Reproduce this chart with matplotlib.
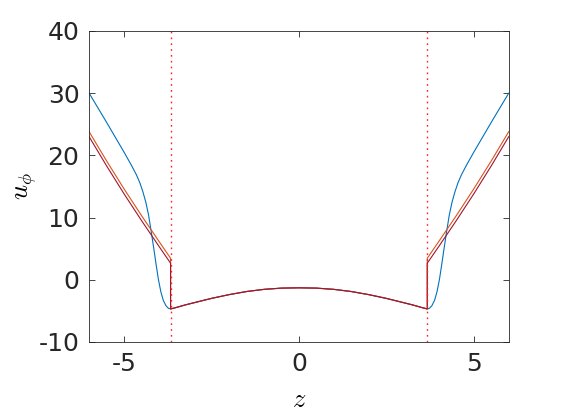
import numpy as np
import matplotlib
matplotlib.use("Agg")
import matplotlib.pyplot as plt

plt.rcParams['mathtext.fontset'] = 'cm'
plt.rcParams['axes.unicode_minus'] = False

# interface position (dotted lines)
z_int = 3.67

# outer region, left side (z from -6 to -3.67); right side is the mirror image
z_blue = [-6.0, -5.5, -5.0, -4.8, -4.65, -4.55, -4.46, -4.38, -4.3, -4.22,
          -4.15, -4.08, -4.02, -3.95, -3.88, -3.8, -3.73, -3.67]
blue_out = [30.0, 25.3, 20.5, 18.5, 16.9, 15.6, 14.1, 12.5, 10.4, 7.6,
            5.0, 2.3, 0.1, -1.9, -3.3, -4.2, -4.6, -4.7]

z_lines = [-6.0, -5.5, -5.0, -4.5, -4.0, -3.67, -3.67]
orange_out = [23.8, 19.1, 14.6, 10.3, 6.15, 3.45, -4.7]
red_out = [23.0, 18.3, 13.8, 9.5, 5.35, 2.65, -4.7]

# inner region (all three curves coincide)
z_in = [-3.67, -3.5, -3.25, -3.0, -2.5, -2.0, -1.5, -1.0, -0.5, 0.0,
        0.5, 1.0, 1.5, 2.0, 2.5, 3.0, 3.25, 3.5, 3.67]
u_in = [-4.7, -4.45, -4.05, -3.7, -3.0, -2.4, -1.9, -1.55, -1.35, -1.3,
        -1.35, -1.55, -1.9, -2.4, -3.0, -3.7, -4.05, -4.45, -4.7]


def full_curve(z_out, vals_out):
    # left outer + inner + mirrored right outer
    z = list(z_out) + list(z_in) + [-v for v in z_out[::-1]]
    u = list(vals_out) + list(u_in) + list(vals_out[::-1])
    return z, u


fig = plt.figure(figsize=(5.64, 4.18), dpi=100)
ax = fig.add_axes([0.158, 0.182, 0.744, 0.744])

for zo, vals, c in [(z_blue, blue_out, '#0072BD'),
                    (z_lines, orange_out, '#D95319'),
                    (z_lines, red_out, '#A2142F')]:
    z, u = full_curve(zo, vals)
    ax.plot(z, u, color=c, linewidth=0.8)

ax.axvline(-z_int, color='#FF2020', linestyle=(0, (1.2, 3)), linewidth=1.0)
ax.axvline(z_int, color='#FF2020', linestyle=(0, (1.2, 3)), linewidth=1.0)

ax.set_xlim(-6, 6)
ax.set_ylim(-10, 40)
ax.set_xticks([-5, 0, 5])
ax.set_yticks([-10, 0, 10, 20, 30, 40])
ax.tick_params(direction='in', top=True, right=True, labelsize=18,
               colors='#262626', length=4, width=0.6, pad=7)
for s in ax.spines.values():
    s.set_linewidth(0.6)
    s.set_color('#262626')

ax.set_xlabel(r'$z$', fontsize=19, labelpad=8)
ax.set_ylabel(r'$u_\phi$', fontsize=19)
ax.yaxis.set_label_coords(-0.12, 0.5)

fig.savefig('out.png', dpi=100)
